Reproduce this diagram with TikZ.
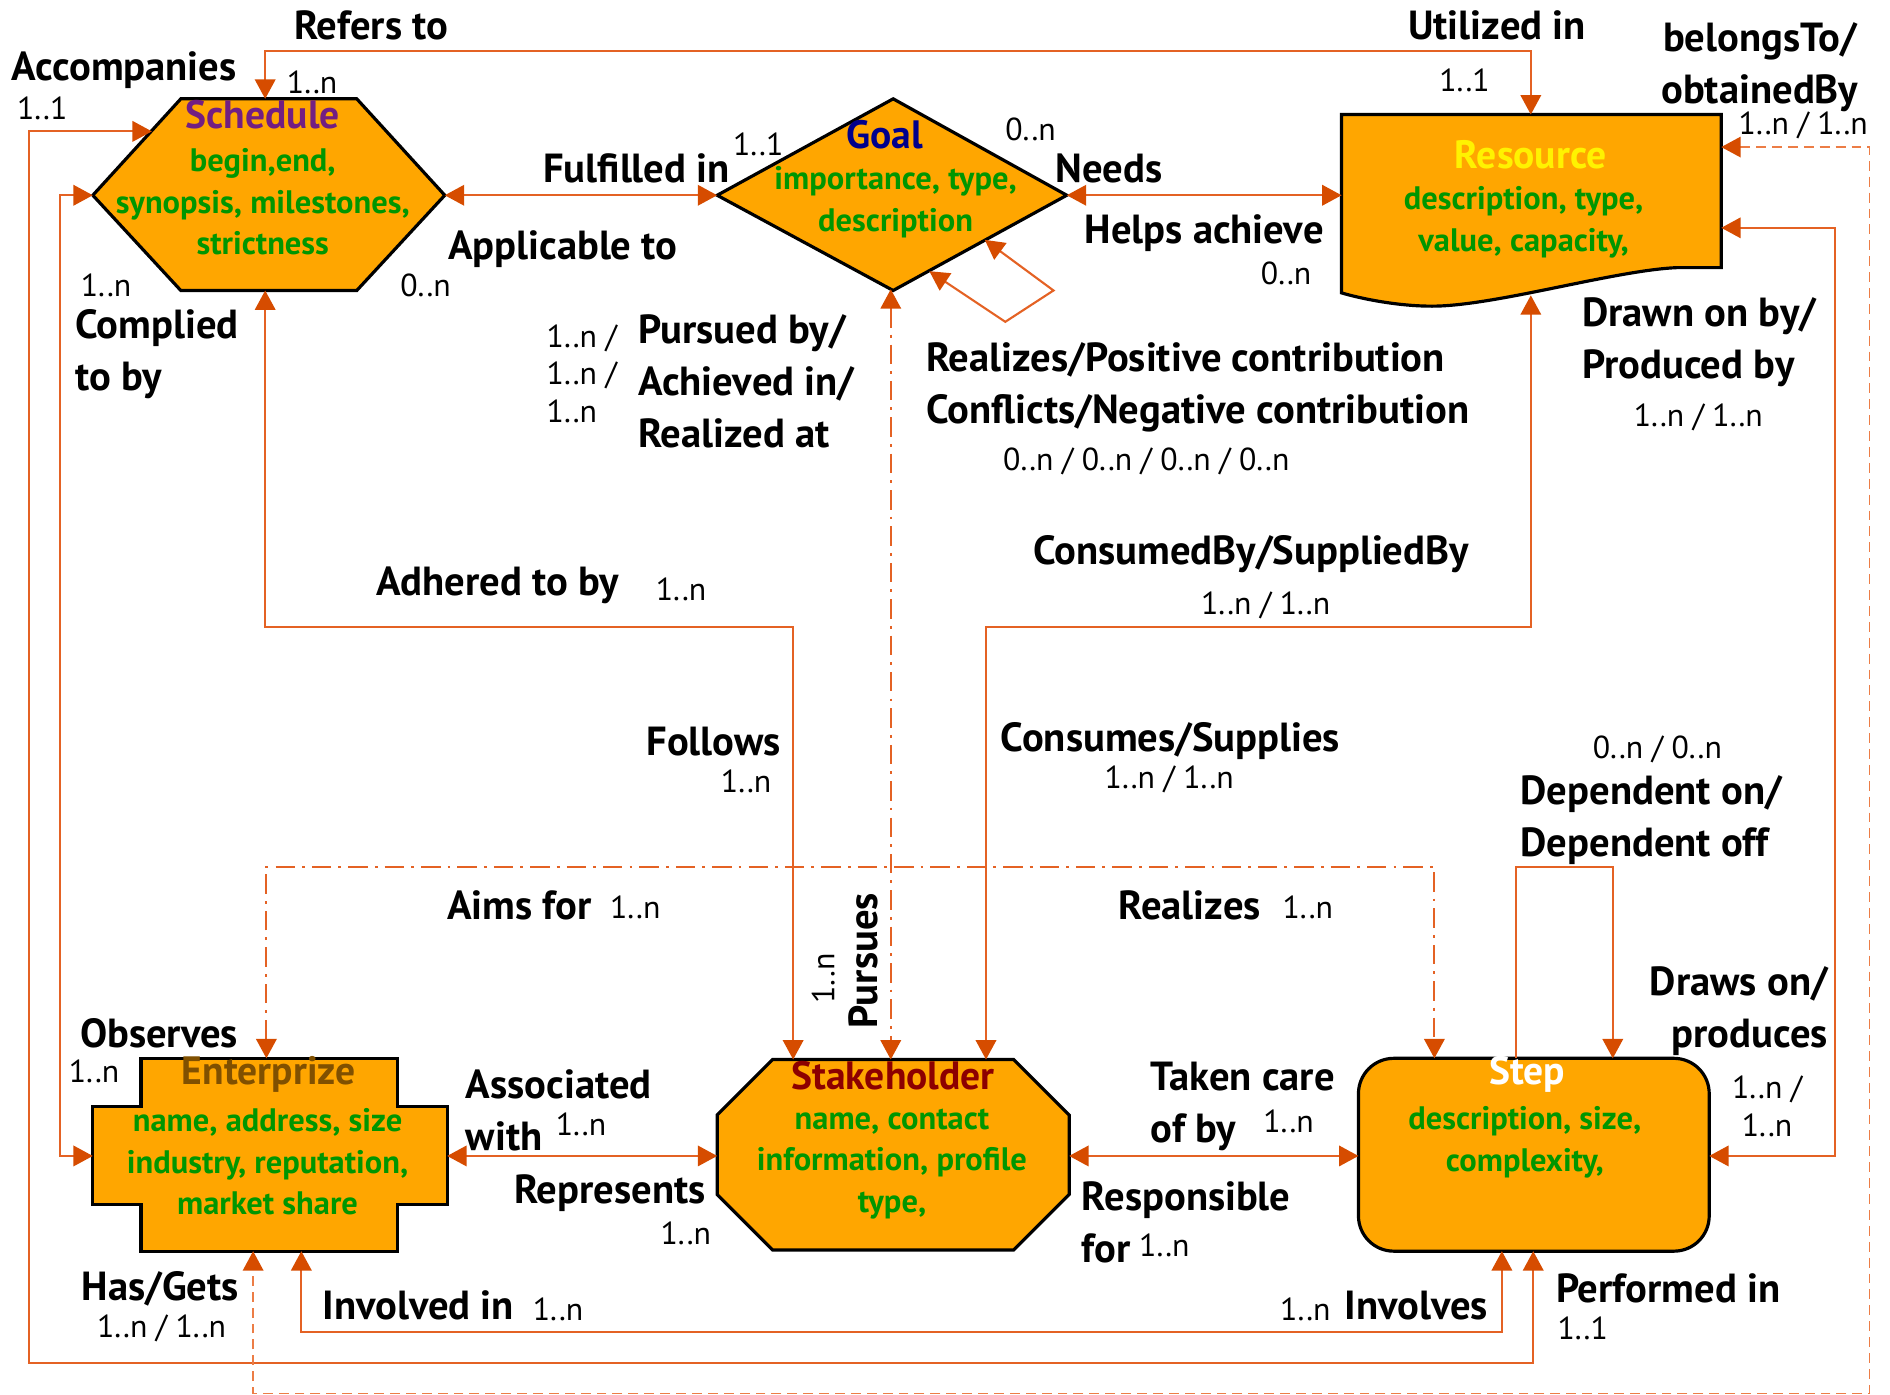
\documentclass[tikz,border=0pt]{standalone}
\usepackage{fontspec}
\setmainfont{PT Sans}
\usetikzlibrary{arrows.meta}
\definecolor{lc}{RGB}{228,98,36}
\definecolor{ac}{RGB}{214,76,0}
\definecolor{dc}{RGB}{236,125,70}
\definecolor{nodefill}{RGB}{255,166,0}
\definecolor{attr}{RGB}{0,150,0}
\definecolor{schc}{RGB}{115,30,130}
\definecolor{goalc}{RGB}{0,0,140}
\definecolor{entc}{RGB}{128,80,0}
\definecolor{stkc}{RGB}{140,0,0}
\tikzset{
  myarr/.tip={Triangle[length=5.5pt,width=5.8pt,color=ac]},
  conn/.style={draw=lc, line width=0.6pt, myarr-myarr},
  oneway/.style={draw=lc, line width=0.6pt, -myarr},
  dd/.style={dash pattern=on 5.5pt off 2pt on 0.8pt off 2pt},
  dsh/.style={draw=dc, line width=0.5pt, dash pattern=on 2.8pt off 1.7pt},
  entity/.style={draw=black, line width=0.9pt, fill=nodefill, line join=miter},
  lab/.style={font=\fontsize{11.5}{14.7}\selectfont\bfseries, inner sep=0pt},
  mul/.style={font=\fontsize{9}{10.6}\selectfont, inner sep=0pt},
  ttl/.style={font=\fontsize{11.2}{13}\selectfont\bfseries, inner sep=0pt},
  att/.style={font=\fontsize{9.2}{11.8}\selectfont\bfseries, text=attr, inner sep=0pt, align=center}
}
\begin{document}
\begin{tikzpicture}[x=0.012cm,y=-0.012cm]
\useasboundingbox (0,0) rectangle (1568,1157);

% ---------- entity shapes ----------
\draw[entity] (77,162) -- (150,82) -- (296,82) -- (369,162) -- (296,241) -- (150,241) -- cycle;
\draw[entity] (595,162) -- (741,82) -- (885,162) -- (741,241) -- cycle;
\draw[entity] (1113,95) -- (1428,95) -- (1428,222) -- (1392,222)
   .. controls (1340,224) and (1240,254) .. (1188,254)
   .. controls (1160,254) and (1130,248) .. (1113,243) -- cycle;
\draw[entity] (117,878) -- (330,878) -- (330,918) -- (371,918) -- (371,999) -- (330,999)
   -- (330,1038) -- (117,1038) -- (117,999) -- (77,999) -- (77,918) -- (117,918) -- cycle;
\draw[entity] (641,879) -- (841,879) -- (887,925) -- (887,991) -- (841,1037) -- (641,1037)
   -- (595,991) -- (595,925) -- cycle;
\draw[entity, rounded corners=10pt] (1127,878) rectangle (1418,1038);

% ---------- entity texts ----------
\node[ttl, text=schc] (sched) at (218,95) {Schedule};
\node[att] (schedA) at (218,167.5) {begin,end,\\synopsis, milestones,\\strictness};
\node[ttl, text=goalc] (goal) at (734,112) {Goal};
\node[att] (goalA) at (743,167.5) {importance, type,\\description};
\node[ttl, text=yellow] (res) at (1270,128) {Resource};
\node[att] (resA) at (1264,184.5) {description, type,\\value, capacity,};
\node[ttl, text=entc] (ent) at (223,891) {Enterprize};
\node[att] (entA) at (222,964) {name, address, size\\industry, reputation,\\market share};
\node[ttl, text=stkc] (stk) at (741,892) {Stakeholder};
\node[att] (stkA) at (740,965.5) {name, contact\\information, profile\\type,};
\node[ttl, text=white] (step) at (1267,891) {Step};
\node[att] (stepA) at (1265,947.5) {description, size,\\complexity,};

% ---------- connection points ----------
\coordinate (schT) at (220,82);
\coordinate (schB) at (220,241);
\coordinate (schL) at (77,162);
\coordinate (schR) at (369,162);
\coordinate (schA) at (126,109);
\coordinate (goL) at (595,162);
\coordinate (goR) at (885,162);
\coordinate (goB) at (739,240);
\coordinate (goLa) at (817,199);
\coordinate (goLb) at (771,225);
\coordinate (resT) at (1270,95);
\coordinate (resL) at (1113,162);
\coordinate (resB) at (1270,245);
\coordinate (resR1) at (1428,122);
\coordinate (resR2) at (1428,189);
\coordinate (entT) at (221,878);
\coordinate (entL) at (77,959);
\coordinate (entR) at (371,959);
\coordinate (entB1) at (210,1038);
\coordinate (entB2) at (250,1038);
\coordinate (stT1) at (658,879);
\coordinate (stT2) at (739,879);
\coordinate (stT3) at (818,879);
\coordinate (stL) at (595,959);
\coordinate (stR) at (887,959);
\coordinate (stpT1) at (1190,878);
\coordinate (stpT2) at (1258,878);
\coordinate (stpT3) at (1338,878);
\coordinate (stpL) at (1127,959);
\coordinate (stpR) at (1418,959);
\coordinate (stpB1) at (1246,1038);
\coordinate (stpB2) at (1272,1038);

% ---------- connectors ----------
\draw[conn] (schT) -- ++(0,-40) -| (resT);
\draw[conn] (schA) -- ++(-102,0) -- ++(0,1022) -| (stpB2);
\draw[conn] (schL) -- ++(-27,0) |- (entL);
\draw[conn] (schB) -- ++(0,279) -| (stT1);
\draw[conn] (schR) -- (goL);
\draw[conn] (goR) -- (resL);
\draw[conn] (goLa) -- ++(57,42) -- ++(-40,26) -- (goLb);
\draw[conn, dd] (goB) -- (stT2);
\draw[conn, dd] (entT) -- ++(0,-159) -| (stpT1);
\draw[conn] (resB) -- ++(0,275) -| (stT3);
\draw[conn] (resR2) -- ++(94,0) |- (stpR);
\draw[conn, dsh] (resR1) -- ++(123,0) -- ++(0,1034) -| (entB1);
\draw[conn] (entR) -- (stL);
\draw[conn] (stR) -- (stpL);
\draw[conn] (entB2) -- ++(0,67) -| (stpB1);
\draw[oneway] (stpT2) -- ++(0,-159) -| (stpT3);

% ---------- labels ----------
\node[lab] (lRefers) at (308,21) {Refers to};
\node[mul] (mRefers) at (259,68) {1..n};
\node[lab] (lAcc) at (103,58) {Accompanies};
\node[mul] (mAcc) at (35,90) {1..1};
\node[lab] (lUtil) at (1242,21) {Utilized in};
\node[mul] (mUtil) at (1215,67) {1..1};
\node[lab, align=center] (lBel) at (1460,56) {belongsTo/\\obtainedBy};
\node[mul] (mBel) at (1496,104) {1..n / 1..n};
\node[lab] (lFul) at (528,140) {Fulfilled in};
\node[mul] (mFul) at (629,120) {1..1};
\node[lab] (lApp) at (467,207) {Applicable to};
\node[mul] (mApp) at (353,237) {0..n};
\node[mul] (mNeeds) at (855,107) {0..n};
\node[lab] (lNeeds) at (920,140) {Needs};
\node[lab] (lHelps) at (999,193) {Helps achieve};
\node[mul] (mHelps) at (1067,227) {0..n};
\node[mul] (mComp) at (88,237) {1..n};
\node[lab, align=left, anchor=west] (lComp) at (62,294) {Complied\\to by};
\node[mul, align=left, anchor=west] (mPur) at (453,310) {1..n /\\1..n /\\1..n};
\node[lab, align=left, anchor=west] (lPur) at (529,316) {Pursued by/\\Achieved in/\\Realized at};
\node[lab, align=left, anchor=west] (lReal) at (768,321) {Realizes/Positive contribution\\Conflicts/Negative contribution};
\node[mul] (mReal) at (951,383) {0..n / 0..n / 0..n / 0..n};
\node[lab, align=left, anchor=west] (lDrawn) at (1312,284) {Drawn on by/\\Produced by};
\node[mul] (mDrawn) at (1409,346) {1..n / 1..n};
\node[lab] (lAdh) at (413,486) {Adhered to by};
\node[mul] (mAdh) at (565,489) {1..n};
\node[lab] (lCons) at (1038,460) {ConsumedBy/SuppliedBy};
\node[mul] (mCons) at (1050,502) {1..n / 1..n};
\node[lab] (lFol) at (592,615) {Follows};
\node[mul] (mFol) at (619,648) {1..n};
\node[lab] (lConsS) at (971,615) {Consumes/Supplies};
\node[mul] (mConsS) at (970,647) {1..n / 1..n};
\node[mul] (mDep) at (1375,622) {0..n / 0..n};
\node[lab, align=left, anchor=west] (lDep) at (1261,680) {Dependent on/\\Dependent off};
\node[lab] (lAims) at (431,751) {Aims for};
\node[mul] (mAims) at (527,753) {1..n};
\node[lab] (lRealz) at (987,751) {Realizes};
\node[mul] (mRealz) at (1085,753) {1..n};
\node[lab, rotate=90] (lPursues) at (716,797) {Pursues};
\node[mul, rotate=90] (mPursues) at (683,812) {1..n};
\node[lab, align=right, anchor=east] (lDraws) at (1517,839) {Draws on/\\produces};
\node[mul, align=center] (mDraws) at (1466,918) {1..n /\\1..n};
\node[lab] (lObs) at (132,857) {Observes};
\node[mul] (mObs) at (78,889) {1..n};
\node[lab, align=left, anchor=west] (lAssoc) at (386,921) {Associated\\with};
\node[mul] (mAssoc) at (482,933) {1..n};
\node[lab] (lRep) at (506,990) {Represents};
\node[mul] (mRep) at (569,1023) {1..n};
\node[lab, align=left, anchor=west] (lTaken) at (954,918) {Taken care\\of by};
\node[mul] (mTaken) at (1069,930) {1..n};
\node[lab, align=left, anchor=west] (lResp) at (897,1014) {Responsible\\for};
\node[mul] (mResp) at (966,1033) {1..n};
\node[lab] (lHas) at (133,1069) {Has/Gets};
\node[mul] (mHas) at (134,1102) {1..n / 1..n};
\node[lab] (lInv) at (347,1083) {Involved in};
\node[mul] (mInv) at (463,1086) {1..n};
\node[mul] (mInvs) at (1083,1086) {1..n};
\node[lab] (lInvs) at (1175,1083) {Involves};
\node[lab] (lPerf) at (1384,1069) {Performed in};
\node[mul] (mPerf) at (1313,1102) {1..1};
\end{tikzpicture}
\end{document}
